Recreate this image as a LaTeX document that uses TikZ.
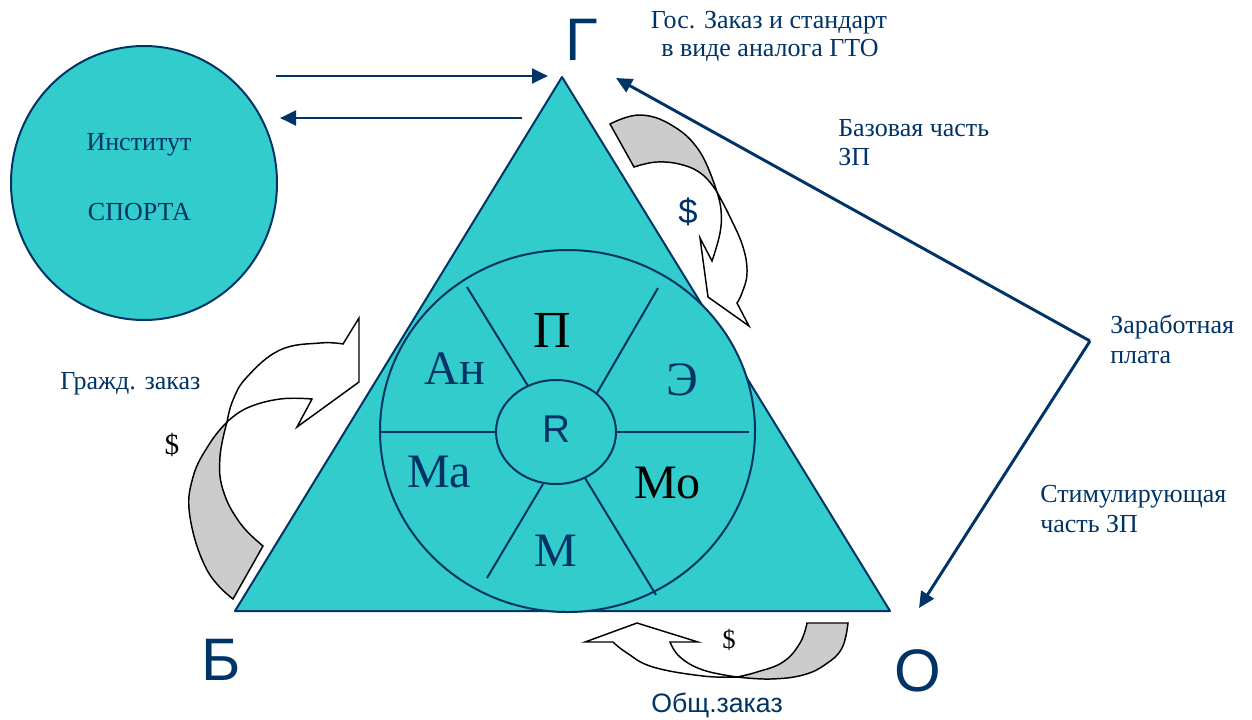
\documentclass[tikz,border=0pt]{standalone}
\usepackage{fontspec}
\setmainfont{Liberation Serif}
\newfontfamily\sansf{Liberation Sans}
\usetikzlibrary{arrows.meta}
\definecolor{navy}{HTML}{003366}
\definecolor{tealfill}{HTML}{33CCCC}
\definecolor{grayface}{HTML}{CCCCCC}
\begin{document}
\begin{tikzpicture}[x=0.75pt,y=-0.75pt,line join=round,
  edge/.style={draw=navy,line width=1.5pt},
  conn/.style={draw=navy,line width=2.2pt,-{Triangle[length=12pt,width=11pt]}},
  bendarrow/.style={draw=black,line width=1.1pt,line join=miter},
  lbl/.style={text=navy,font=\fontsize{19.5}{21}\selectfont,inner sep=0pt},
  big/.style={font=\fontsize{36}{36}\selectfont,inner sep=0pt,anchor=base},
  corner/.style={text=navy,font=\sansf\fontsize{45}{45}\selectfont,inner sep=0pt,anchor=base}]
\useasboundingbox (0,0) rectangle (1252,719);

% Institute circle
\draw[edge,fill=tealfill] (144,183) ellipse [x radius=133, y radius=137];
\node[lbl,font=\fontsize{19.5}{21}\selectfont,anchor=base] (inst1) at (139,150) {Институт};
\node[lbl,font=\fontsize{19.5}{21}\selectfont,anchor=base] (inst2) at (139.5,220) {СПОРТА};

% triangle
\coordinate (G) at (562,77);
\coordinate (B) at (235,611);
\coordinate (O) at (890,611);
\draw[edge,fill=tealfill] (G) -- (B) -- (O) -- cycle;

% wheel
\draw[edge,fill=tealfill] (567.5,431) ellipse [x radius=187.5, y radius=181];
\draw[edge] (467,287) -- (528,386);
\draw[edge] (658,288) -- (597,393);
\draw[edge] (380,432) -- (496,432);
\draw[edge] (616,432) -- (749,432);
\draw[edge] (543,484) -- (487,578);
\draw[edge] (585,478) -- (656,595);
\draw[edge,fill=tealfill] (556,432) ellipse [x radius=60, y radius=52];

\node[big,font=\fontsize{39}{39}\selectfont,text=black] (p) at (552,347) {П};
\node[big,text=navy] (an) at (455,384) {Ан};
\node[big,text=navy] (e) at (682,395) {Э};
\node[big,text=navy,font=\sansf\fontsize{29}{29}\selectfont] (r) at (556,442) {R};
\node[big,text=navy] (ma) at (439,487) {Ма};
\node[big,text=black] (mo) at (667.5,498) {Мо};
\node[big,text=navy] (m) at (556,566) {М};

% corner letters
\node[corner] (g) at (582,60) {Г};
\node[corner] (b) at (221,680) {Б};
\node[corner] (o) at (918,691) {О};

% straight arrows
\coordinate (a1s) at (276,76);
\coordinate (a1e) at (548,76);
\coordinate (a2s) at (522,118);
\coordinate (a2e) at (280,118);
\draw[conn] (a1s) -- (a1e);
\draw[conn] (a2s) -- (a2e);

\coordinate (hub) at (1090,341);
\coordinate (tipG) at (616,78);
\coordinate (tipO) at (919,608);
\draw[conn,line join=miter] (hub) -- (tipG);
\draw[conn] (hub) -- (tipO);

% curved arrow top right
\draw[bendarrow,fill=white] plot[smooth,tension=0.7] coordinates {(717,192) (730,217) (743,247) (747,273) (742,293) (737,303)}
  -- (749,326) -- (708,297) -- (700,238) -- (712,261)
  -- plot[smooth,tension=0.7] coordinates {(712,261) (720,233) (721,210) (717,192)} -- cycle;
\draw[bendarrow,fill=grayface] plot[smooth,tension=0.7] coordinates {(610,124) (640,115) (673,126) (700,152) (717,192)}
  -- plot[smooth,tension=0.7] coordinates {(717,192) (703,175) (683,165) (657,162) (634,167)} -- cycle;

% curved arrow left
\draw[bendarrow,fill=white] plot[smooth,tension=0.7] coordinates {(227,422) (233,400) (247,377) (280,350) (320,343) (343,344)}
  -- (359,318) -- (359,382) -- (297,427) -- (312,399)
  -- plot[smooth,tension=0.7] coordinates {(312,399) (280,399) (247,408) (227,422)} -- cycle;
\draw[bendarrow,fill=grayface] plot[smooth,tension=0.7] coordinates {(233,599) (207,570) (190,517) (193,477) (210,443) (227,422)}
  -- plot[smooth,tension=0.7] coordinates {(227,422) (220,457) (223,490) (240,523) (263,546)} -- cycle;

% curved arrow bottom
\draw[bendarrow,fill=white] plot[smooth,tension=0.7] coordinates {(737,677) (703,676) (653,667) (627,653) (613,642)}
  -- (585,642) -- (637,623) -- (698,642) -- (670,642)
  -- plot[smooth,tension=0.7] coordinates {(670,642) (680,657) (703,670) (737,677)} -- cycle;
\draw[bendarrow,fill=grayface] plot[smooth,tension=0.7] coordinates {(848,623) (842,648) (826,664) (803,675) (770,679) (737,677)}
  -- plot[smooth,tension=0.7] coordinates {(737,677) (757,672) (783,662) (800,643) (807,623)} -- cycle;

% dollar signs
\node[inner sep=0pt,font=\fontsize{22}{22}\selectfont] (d1) at (172,445) {\$};
\node[inner sep=0pt,text=navy,font=\sansf\fontsize{26}{26}\selectfont] (d2) at (688,212) {\$};
\node[inner sep=0pt,font=\fontsize{20}{20}\selectfont] (d3) at (729,640) {\$};

% labels
\node[lbl,anchor=base] (gos1) at (769,28) {Гос. Заказ и стандарт};
\node[lbl,anchor=base] (gos2) at (770,56) {в виде аналога ГТО};
\node[lbl,anchor=base west] (baz1) at (838,136) {Базовая часть};
\node[lbl,anchor=base west] (baz2) at (838,165) {ЗП};
\node[lbl,anchor=base west] (zar1) at (1110,333) {Заработная};
\node[lbl,anchor=base west] (zar2) at (1110,363) {плата};
\node[lbl,anchor=base west] (stim1) at (1040,502) {Стимулирующая};
\node[lbl,anchor=base west] (stim2) at (1040,532) {часть ЗП};
\node[lbl,anchor=base west] (grazhd) at (60,389) {Гражд. заказ};
\node[lbl,anchor=base,font=\sansf\fontsize{20}{20}\selectfont] (obsh) at (717,712) {Общ.заказ};
\end{tikzpicture}
\end{document}
